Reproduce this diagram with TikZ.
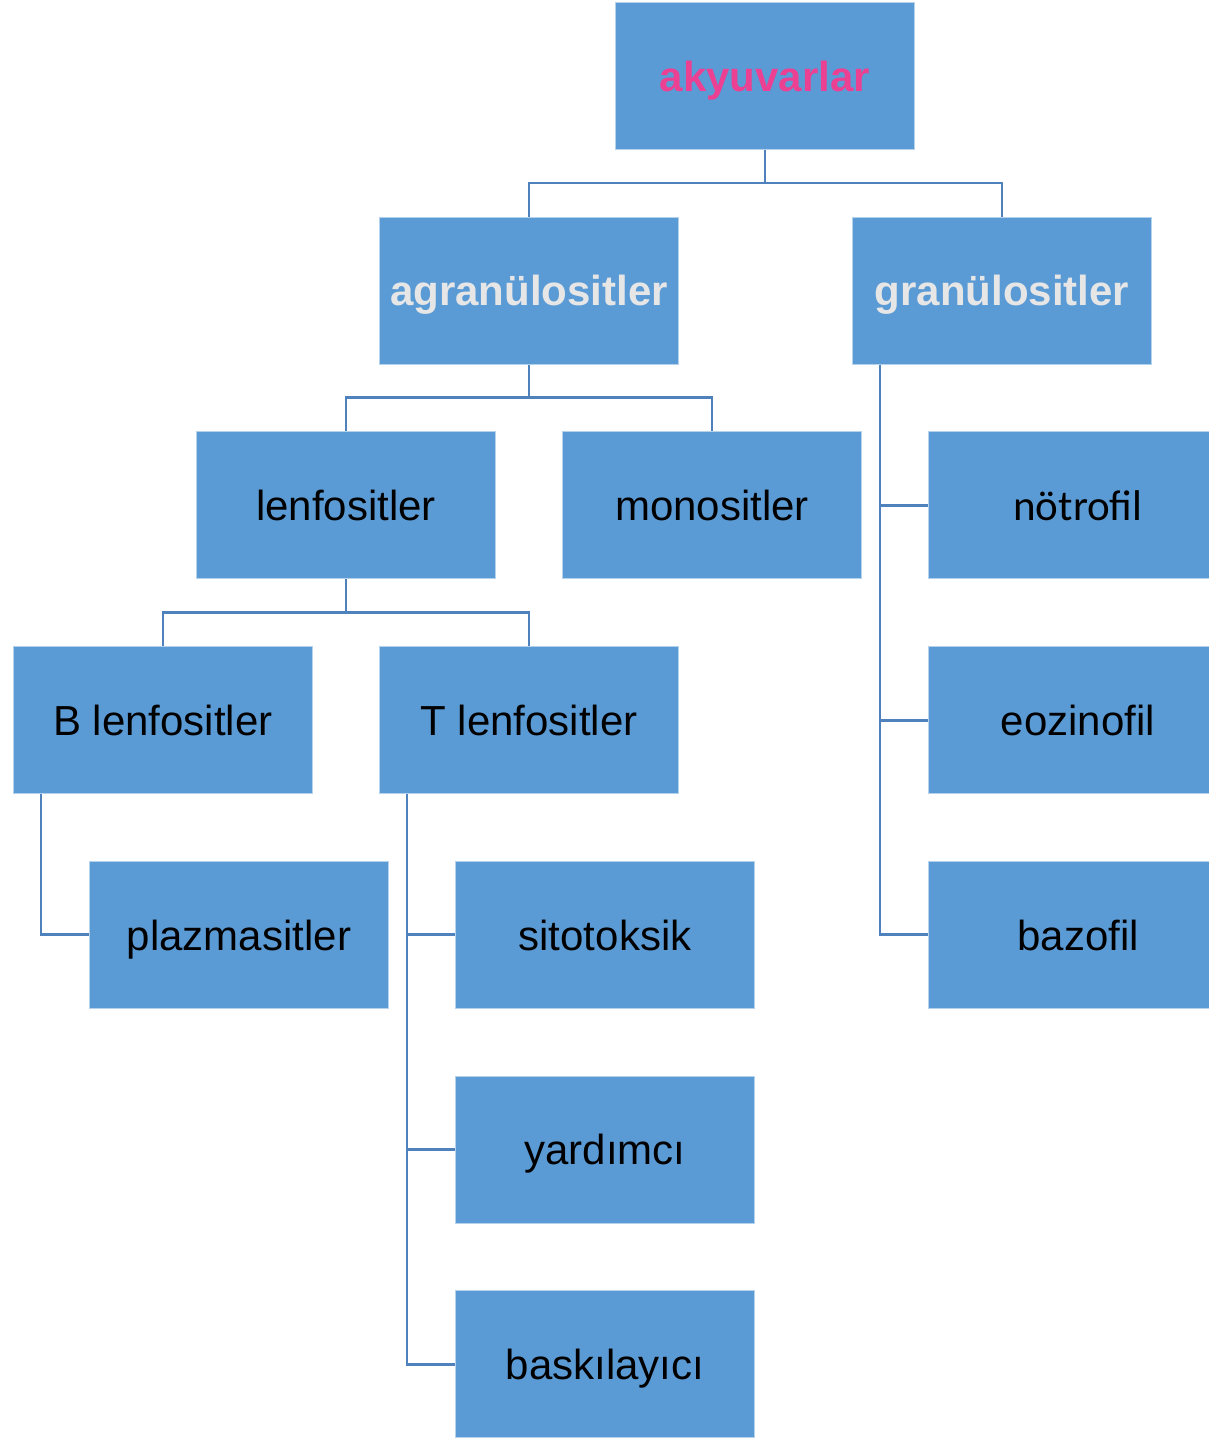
\documentclass[tikz,border=0pt]{standalone}
\usepackage{fontspec}
\setmainfont{Liberation Sans}
\newfontfamily\carlito{Carlito}
\usepackage{tikz}
\usetikzlibrary{positioning}
\definecolor{cellblue}{RGB}{91,155,213}
\definecolor{linkblue}{RGB}{79,129,189}
\definecolor{hotpink}{RGB}{236,64,146}
\definecolor{lightgray}{RGB}{231,230,230}

\begin{document}
\begin{tikzpicture}[
    node distance=33.35pt,
    cell/.style={draw=cellblue!45!white, line width=0.5pt, fill=cellblue, minimum width=149.5pt,
                minimum height=73.5pt, inner sep=0pt, text depth=0pt, align=center,
                font=\fontsize{21}{25}\selectfont},
    head/.style={cell, font=\fontsize{21}{25}\selectfont\bfseries},
    link/.style={draw=linkblue, line width=1.4pt}
]
\useasboundingbox (0,0) rectangle (604.5pt,-720pt);
\node[head, text=hotpink] (ak) at (382.5pt,-38pt) {akyuvarlar};
\node[head, text=lightgray, below=of ak, xshift=-118pt] (agran) {agranülositler};
\node[head, text=lightgray, below=of ak, xshift=118.5pt] (gran) {granülositler};
\node[cell, below=of agran, xshift=-91.5pt] (lenf) {lenfositler};
\node[cell, below=of agran, xshift=91.5pt] (mono) {monositler};
\node[cell, below=of gran, xshift=38pt, font=\fontsize{21.5}{25}\selectfont\carlito] (notro) {nötrofil};
\node[cell, below=of notro] (eoz) {eozinofil};
\node[cell, below=of eoz] (bazo) {bazofil};
\node[cell, below=of lenf, xshift=-91.5pt] (blen) {B lenfositler};
\node[cell, below=of lenf, xshift=91.5pt] (tlen) {T lenfositler};
\node[cell, below=of blen, xshift=38pt] (plaz) {plazmasitler};
\node[cell, below=of tlen, xshift=38pt] (sito) {sitotoksik};
\node[cell, below=of sito] (yard) {yardımcı};
\node[cell, below=of yard] (bask) {baskılayıcı};
\draw[link] (ak.south) -- ++(0,-16.5pt) -| (agran.north);
\draw[link] (ak.south) -- ++(0,-16.5pt) -| (gran.north);
\draw[link] (agran.south) -- ++(0,-16.5pt) -| (lenf.north);
\draw[link] (agran.south) -- ++(0,-16.5pt) -| (mono.north);
\draw[link] (lenf.south) -- ++(0,-16.5pt) -| (blen.north);
\draw[link] (lenf.south) -- ++(0,-16.5pt) -| (tlen.north);
\draw[link] ([xshift=14pt]gran.south west) |- (notro.west);
\draw[link] ([xshift=14pt]gran.south west) |- (eoz.west);
\draw[link] ([xshift=14pt]gran.south west) |- (bazo.west);
\draw[link] ([xshift=14pt]blen.south west) |- (plaz.west);
\draw[link] ([xshift=14pt]tlen.south west) |- (sito.west);
\draw[link] ([xshift=14pt]tlen.south west) |- (yard.west);
\draw[link] ([xshift=14pt]tlen.south west) |- (bask.west);
\end{tikzpicture}
\end{document}
